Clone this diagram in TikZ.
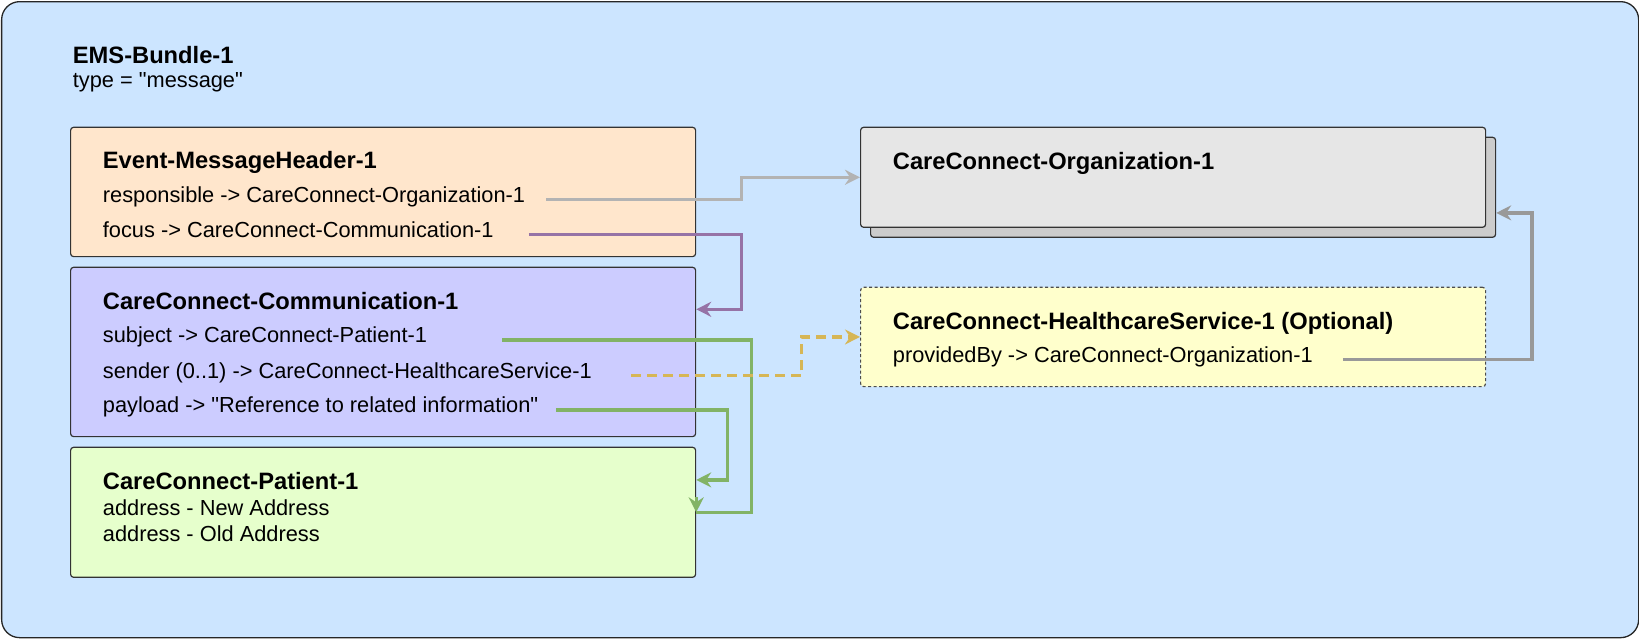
\documentclass[tikz,border=0pt]{standalone}
\usepackage{fontspec}
\setmainfont{Liberation Sans}[Ligatures=TeXOff]
\usetikzlibrary{arrows.meta,calc}
\definecolor{bundlefill}{HTML}{CCE5FF}
\definecolor{hdrfill}{HTML}{FFE6CC}
\definecolor{commfill}{HTML}{CCCCFF}
\definecolor{patfill}{HTML}{E6FFCC}
\definecolor{orgfill}{HTML}{E6E6E6}
\definecolor{orgshade}{HTML}{CCCCCC}
\definecolor{hcsfill}{HTML}{FFFFCC}
\definecolor{lightgrey}{HTML}{B3B3B3}
\definecolor{midgrey}{HTML}{999999}
\definecolor{purp}{HTML}{9673A6}
\definecolor{grn}{HTML}{82B366}
\definecolor{gold}{HTML}{D6B656}
\begin{document}
\begin{tikzpicture}[x=1pt,y=-1pt,>={Stealth[length=15pt,width=15pt,inset=5pt]},
box/.style={draw=black!80,line width=1.2pt,rounded corners=3pt,anchor=north west,inner sep=0pt,minimum width=625pt},
head/.style={anchor=base west,inner sep=0pt,font=\fontsize{23.7}{28}\selectfont\bfseries},
txt/.style={anchor=base west,inner sep=0pt,font=\fontsize{21.8}{26}\selectfont},
link/.style={line width=3.4pt,->}]
\useasboundingbox(0,0)rectangle(1639,638);
\node[box,fill=bundlefill,draw=black!85,line width=1.3pt,rounded corners=18pt,minimum width=1637pt,minimum height=636pt](bundle)at(1,1){};
\node[head](bundlettl)at(72.7,63){EMS-Bundle-1};
\node[txt](bundletype)at(72.7,87){type = "message"};
\node[box,fill=hdrfill,minimum height=129.3pt](hdr)at(70,126.7){};
\node[head](hdrttl)at(102.7,168){Event-MessageHeader-1};
\node[txt](resp)at(102.7,202){responsible -> CareConnect-Organization-1};
\node[txt](focus)at(102.7,237.3){focus -> CareConnect-Communication-1};
\node[box,fill=commfill,minimum height=169.3pt](comm)at(70,266.7){};
\node[head](commttl)at(102.7,309){CareConnect-Communication-1};
\node[txt](subject)at(102.7,342.5){subject -> CareConnect-Patient-1};
\node[txt](sender)at(102.7,378.3){sender (0..1) -> CareConnect-HealthcareService-1};
\node[txt](payload)at(102.7,412.8){payload -> "Reference to related information"};
\node[box,fill=patfill,minimum height=130pt](pat)at(70,446.7){};
\node[head](patttl)at(102.7,489){CareConnect-Patient-1};
\node[txt](newaddr)at(102.7,515.7){address - New Address};
\node[txt](oldaddr)at(102.7,541.7){address - Old Address};
\node[box,fill=orgshade,minimum height=100pt](orgback)at(870,136.7){};
\node[box,fill=orgfill,minimum height=100pt](org)at(860,126.7){};
\node[head](orgttl)at(892.7,169.3){CareConnect-Organization-1};
\node[box,fill=hcsfill,draw=black!70,dash pattern=on 3pt off 2.5pt,minimum height=99.3pt](hcs)at(860,286.7){};
\node[head](hcsttl)at(892.7,329){CareConnect-HealthcareService-1 (Optional)};
\node[txt](provby)at(892.7,362.3){providedBy -> CareConnect-Organization-1};
\draw[link,lightgrey]([xshift=21pt]resp.mid east)-|($(hdr.east|-org.west)+(45,0)$)--(org.west);
\draw[link,purp]([xshift=35pt]focus.mid east)-|($(comm.north east)+(45,42.6)$)--($(comm.north east)+(0,42.6)$);
\draw[line width=3.4pt,grn]([xshift=75pt]subject.mid east)-|($(pat.east)+(55,0)$)--(pat.east);
\draw[link,grn]($(pat.east)+(0,-15)$)--(pat.east);
\draw[link,grn]([xshift=18pt]payload.mid east)-|($(pat.east)+(31,-32.4)$)--($(pat.east)+(0,-32.4)$);
\draw[link,gold,dash pattern=on 10pt off 6pt]([xshift=39pt]sender.mid east)-|($(hcs.west)+(-58.3,0)$)--(hcs.west);
\draw[link,midgrey]([xshift=30pt]provby.mid east)-|($(orgback.south east)+(35.7,-25)$)--($(orgback.south east)+(0,-25)$);
\end{tikzpicture}
\end{document}
